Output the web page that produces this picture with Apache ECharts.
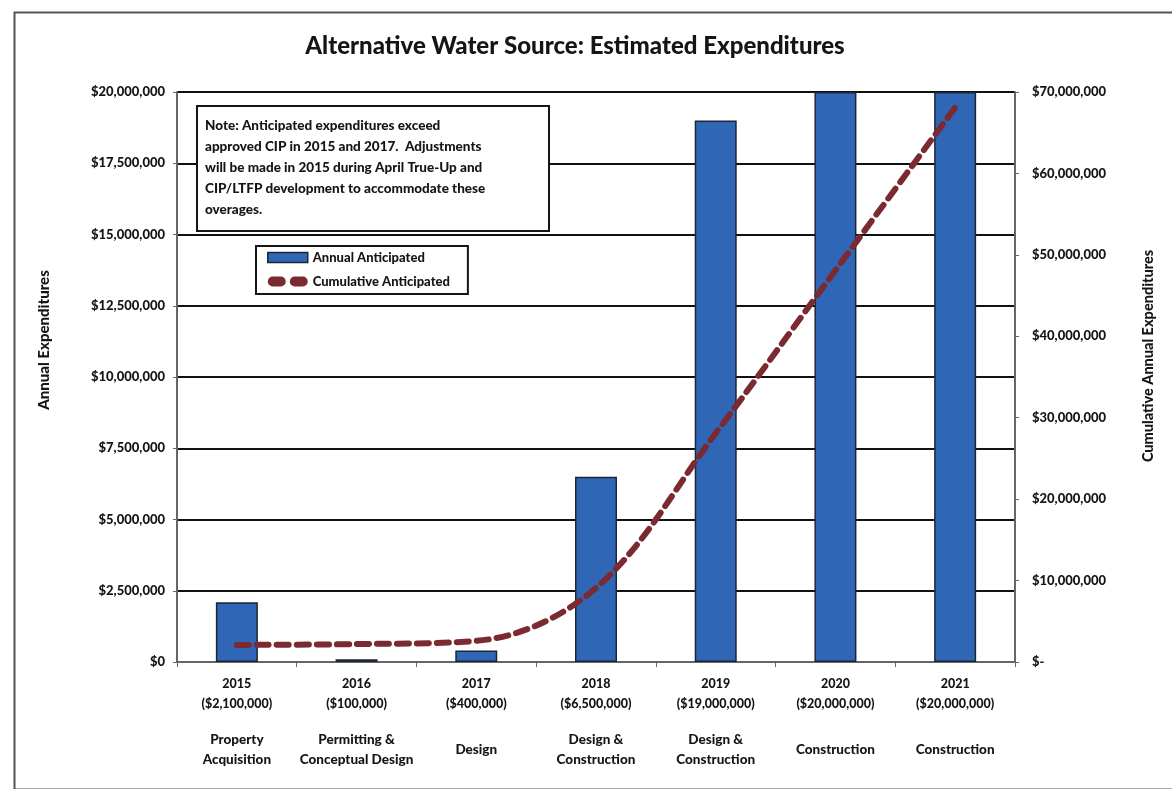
<!DOCTYPE html>
<html><head><meta charset="utf-8">
<script src="https://cdn.jsdelivr.net/npm/echarts@6/dist/echarts.min.js"></script>
<style>html,body{margin:0;padding:0;background:#fff}#c{width:1172px;height:789px}</style>
</head><body><div id="c"></div>
<script>
const years = ['2015','2016','2017','2018','2019','2020','2021'];
const phases = ['Property\nAcquisition','Permitting &\nConceptual Design','Design','Design &\nConstruction','Design &\nConstruction','Construction','Construction'];
const annual = [2100000, 100000, 400000, 6500000, 19000000, 20000000, 20000000];
const cumulative = [2100000, 2200000, 2600000, 9100000, 28100000, 48100000, 68100000];
const noteText = 'Note: Anticipated expenditures exceed\napproved CIP in 2015 and 2017.  Adjustments\nwill be made in 2015 during April True-Up and\nCIP/LTFP development to accommodate these\noverages.';

const FONT = 'Lato';
const W = 900;
const INK = '#151515';
function money(v){ return '$' + v.toLocaleString('en-US'); }

const chart = echarts.init(document.getElementById('c'));
chart.setOption({
  animation: false,
  backgroundColor: '#fff',
  textStyle: { fontFamily: FONT },
  title: {
    text: 'Alternative Water Source: Estimated Expenditures',
    left: 570, top: 29, textAlign: 'center',
    textStyle: { fontFamily: FONT, fontSize: 24, fontWeight: W, color: INK }
  },
  legend: {
    orient: 'vertical', left: 256, top: 246,
    itemGap: 11, itemWidth: 40, itemHeight: 10,
    padding: [5, 18, 6, 11],
    borderColor: INK, borderWidth: 2, backgroundColor: '#fff',
    textStyle: { fontFamily: FONT, fontSize: 13, fontWeight: W, color: INK },
    data: [
      { name: 'Annual Anticipated', icon: 'rect', itemStyle: { borderColor: '#1c2636', borderWidth: 1.5 } },
      { name: 'Cumulative Anticipated',
        icon: 'path://M5,0 h8 a5,5 0 0 1 0,10 h-8 a5,5 0 0 1 0,-10 z M27,0 h8 a5,5 0 0 1 0,10 h-8 a5,5 0 0 1 0,-10 z',
        itemStyle: { color: '#7B2A32' } }
    ]
  },
  grid: { left: 177, right: 157, top: 92, bottom: 127 },
  xAxis: [{
    type: 'category', data: years,
    axisLine: { lineStyle: { color: '#666', width: 2 } },
    axisTick: { show: true, length: 5, lineStyle: { color: '#666' } },
    axisLabel: {
      interval: 0, margin: 12, lineHeight: 20, color: INK, fontFamily: FONT, fontSize: 12.5, fontWeight: W,
      formatter: function(v, i){ return v + '\n(' + money(annual[i]) + ')'; }
    }
  }, {
    type: 'category', data: phases, position: 'bottom', offset: 88,
    axisLine: { show: false }, axisTick: { show: false },
    axisLabel: {
      interval: 0, margin: 0, verticalAlign: 'middle', lineHeight: 20, color: INK,
      fontFamily: FONT, fontSize: 13.5, fontWeight: W
    }
  }],
  yAxis: [{
    type: 'value', min: 0, max: 20000000, interval: 2500000,
    axisLine: { show: true, lineStyle: { color: '#666', width: 2 } },
    axisTick: { show: true, length: 4, lineStyle: { color: '#666' } },
    axisLabel: { margin: 12, color: INK, fontFamily: FONT, fontSize: 13, fontWeight: W,
      formatter: function(v){ return money(v); } },
    splitLine: { show: true, lineStyle: { color: '#111', width: 2 } }
  }, {
    type: 'value', min: 0, max: 70000000, interval: 10000000, position: 'right',
    axisLine: { show: true, lineStyle: { color: '#666', width: 2 } },
    axisTick: { show: true, length: 4, lineStyle: { color: '#666' } },
    axisLabel: { margin: 17, color: INK, fontFamily: FONT, fontSize: 13, fontWeight: W,
      formatter: function(v){ return v === 0 ? '$-' : money(v); } },
    splitLine: { show: false }
  }],
  series: [{
    name: 'Annual Anticipated', type: 'bar', yAxisIndex: 0, barWidth: 42,
    data: annual,
    itemStyle: { color: '#2F66B6', borderColor: '#1c2636', borderWidth: 1.5 }
  }, {
    name: 'Cumulative Anticipated', type: 'line', yAxisIndex: 1, data: cumulative,
    smooth: 0.35, symbol: 'none', z: 5,
    lineStyle: { color: '#7B2A32', width: 6, type: [12, 8], cap: 'round' },
    itemStyle: { color: '#7B2A32' }
  }],
  graphic: [{
    type: 'rect', left: 12, top: 10, shape: { width: 1170, height: 777 },
    style: { fill: 'none', stroke: '#555', lineWidth: 2 }, silent: true, z: -10
  }, {
    type: 'rect', left: 196, top: 105, z: 50,
    shape: { width: 352, height: 125 },
    style: { fill: '#fff', stroke: INK, lineWidth: 2 }
  }, {
    type: 'text', left: 205, top: 115, z: 51,
    style: { text: noteText, fill: INK, font: '900 13.5px Lato', lineHeight: 21 }
  }, {
    type: 'text', z: 51, x: 44, y: 340, rotation: Math.PI / 2,
    style: { text: 'Annual Expenditures', fill: INK, font: '900 15px Lato', align: 'center', verticalAlign: 'middle' }
  }, {
    type: 'text', z: 51, x: 1148, y: 356, rotation: Math.PI / 2,
    style: { text: 'Cumulative Annual Expenditures', fill: INK, font: '900 14.5px Lato', align: 'center', verticalAlign: 'middle' }
  }]
});
</script></body></html>
